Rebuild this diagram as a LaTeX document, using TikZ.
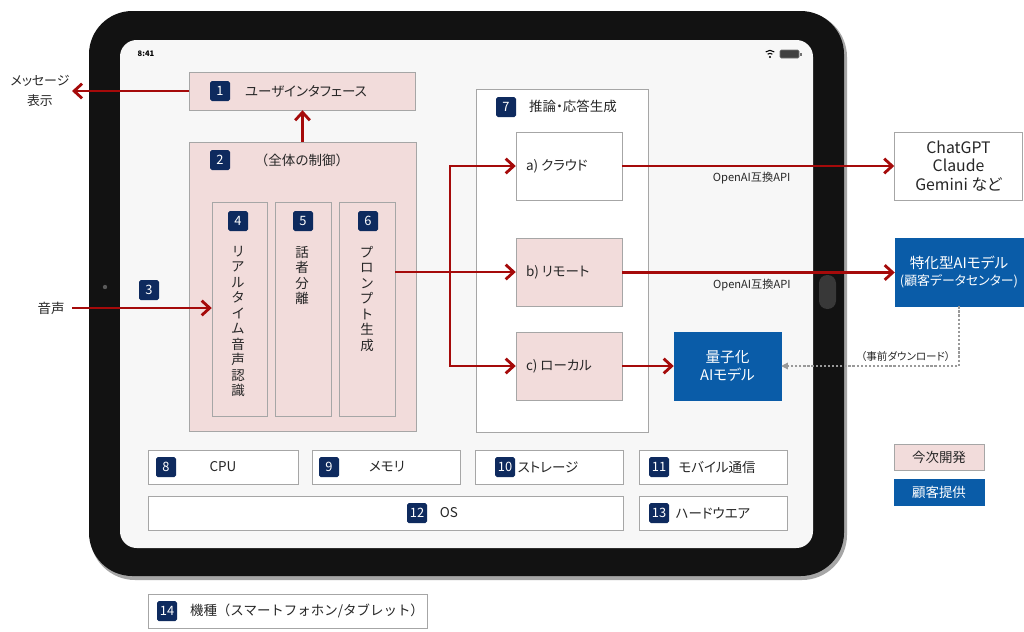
\documentclass[tikz,border=0pt]{standalone}
\usepackage{fontspec}
\setmainfont{Noto Sans CJK JP}[RawFeature=+palt]
\newfontfamily\fullw{Noto Sans CJK JP}
\usetikzlibrary{arrows.meta,positioning}

\definecolor{devpink}{HTML}{F2DCDB}
\definecolor{custblue}{HTML}{0A5CA8}
\definecolor{tagnavy}{HTML}{0E2A5E}
\definecolor{flowred}{HTML}{A50A0A}
\definecolor{edgegray}{HTML}{A6A6A6}
\definecolor{inkgray}{HTML}{262626}
\definecolor{screengray}{HTML}{F7F7F7}

\begin{document}
\begin{tikzpicture}[x=0.03cm, y=-0.03cm,
    font=\fontsize{11.5}{13}\selectfont, text=inkgray,
    sz/.style 2 args={minimum width=#1*0.03cm, minimum height=#2*0.03cm},
    devbox/.style={draw=edgegray, fill=devpink, inner sep=0pt, align=center},
    custbox/.style={draw=custblue, fill=custblue, text=white, inner sep=0pt, align=center},
    plainbox/.style={draw=edgegray, fill=white, inner sep=0pt, align=center},
    tag/.style={fill=tagnavy, text=white, rounded corners=1.5pt, inner sep=0pt,
        minimum size=0.6cm, font=\fontsize{11}{11}\selectfont},
    vtext/.style={align=center, inner sep=0pt, anchor=north, font=\fontsize{11.5}{13.2}\selectfont},
    flowline/.style={draw=flowred, line width=2.4pt},
    flow/.style={flowline, -{Straight Barb[length=2.4mm, width=4.4mm]}},
    api/.style={font=\fontsize{9.5}{10}\selectfont},
    preload/.style={draw=black!40, line width=0.9pt, dash pattern=on 2pt off 1.5pt,
        -{Triangle[length=2mm, width=2mm]}}]
    \fill[white] (0,0) rectangle (1024,631);
    \useasboundingbox (0,0) rectangle (1024,631);

    % Tablet
    \fill[black!35, rounded corners=1.35cm] (90,12) rectangle (847,580);
    \fill[black!93, rounded corners=1.3cm] (89,11) rectangle (844,576);
    \fill[screengray, rounded corners=0.5cm] (120,40) rectangle (813,548);
    \fill[black!65] (105,287) circle (0.065cm);
    \fill[black!78, rounded corners=0.25cm] (819,275) rectangle (836,309);

    % Status bar
    \node[text=black, font=\fontsize{6.5}{6.5}\bfseries] (clock) at (146,54) {8:41};
    \fill[black] (770,57) circle (0.035cm);
    \foreach \r in {0.11,0.2} {
        \draw[black, line width=0.9pt] (770,57) ++(50:\r cm) arc[start angle=50, end angle=130, radius=\r cm];
    }
    \draw[black!55, fill=black!75, rounded corners=1pt, line width=0.5pt] (780,50) rectangle (799,58);
    \fill[black!55] (799.5,52.5) rectangle (801.5,55.5);

    % 1 User interface
    \node[devbox, sz={226}{38}] (ui) at (302.5,91) {};
    \node[tag] (t1) at (220,91) {1};
    \node (uitext) at (306,91) {ユーザインタフェース};
    \node[align=center, font=\fontsize{11}{17}\selectfont] (msg) at (40,91) {メッセージ\\表示};
    \coordinate (msgend) at (72,91);
    \draw[flow] (ui.west) -- (msgend);

    % 2 Overall control
    \node[devbox, sz={227}{289}] (ctrl) at (302.5,286.5) {};
    \node[tag] (t2) at (220,160) {2};
    \node[font=\fullw\fontsize{11.5}{13}\selectfont] (ctrltext) at (302,160) {（全体の制御）};
    \draw[flow] (ctrl.north) -- (ui.south);

    % 4 5 6
    \node[devbox, sz={55}{214}] (asr) at (239.5,309) {};
    \node[devbox, sz={56}{214}] (spk) at (303,309) {};
    \node[devbox, sz={56}{214}] (prm) at (367,309) {};
    \node[tag] (t4) at (238,221) {4};
    \node[tag] (t5) at (303,221) {5};
    \node[tag] (t6) at (368,221) {6};
    \node[vtext] (asrtext) at (238,246) {リ\\ア\\ル\\タ\\イ\\ム\\音\\声\\認\\識};
    \node[vtext] (spktext) at (302,246) {話\\者\\分\\離};
    \node[vtext] (prmtext) at (367,246) {プ\\ロ\\ン\\プ\\ト\\生\\成};

    % 3 Voice input
    \node (voice) at (51,308) {音声};
    \node[tag] (t3) at (149,290) {3};
    \draw[flow, shorten <=3pt] (voice.east) -- (asr.west |- voice.east);

    % 7 Inference
    \node[plainbox, sz={172}{343}] (infer) at (562,260.5) {};
    \node[tag] (t7) at (506,107) {7};
    \node (infertext) at (573,106) {推論・応答生成};
    \node[plainbox, sz={106}{68}] (cloud) at (569,166) {};
    \node[devbox, sz={106}{68}] (remote) at (569,272.5) {};
    \node[devbox, sz={106}{68}] (local) at (569,366) {};
    \node[anchor=west, inner sep=0pt] (cloudtext) at ([xshift=0.3cm]cloud.west) {a) クラウド};
    \node[anchor=west, inner sep=0pt] (remotetext) at ([xshift=0.3cm]remote.west) {b) リモート};
    \node[anchor=west, inner sep=0pt] (localtext) at ([xshift=0.3cm]local.west) {c) ローカル};

    % Branches from prompt generation
    \coordinate (split) at (450,272);
    \draw[flowline] (prm.east |- split) -- (split);
    \draw[flow] (split) |- (cloud.west);
    \draw[flow] (split) -- (remote.west |- split);
    \draw[flow] (split) |- (local.west);

    % AI models
    \node[plainbox, sz={128}{68}, font=\fontsize{13.5}{15.7}\selectfont] (cloudai) at (958.5,166) {ChatGPT\\Claude\\Gemini など};
    \node[custbox, sz={128}{68}, font=\fontsize{12.5}{14.5}\selectfont] (custai) at (959,272) {特化型AIモデル\\{\fontsize{11}{14.5}\selectfont (顧客データセンター)}};
    \node[custbox, sz={107}{68}, font=\fontsize{12.5}{15.3}\selectfont] (quant) at (727.5,366) {量子化\\AIモデル};
    \draw[flow] (cloud.east) -- (cloudai.west) node[api, midway, below, yshift=-1pt, xshift=-0.2cm] {OpenAI互換API};
    \draw[flow] (remote.east) -- (custai.west |- remote.east) node[api, midway, below, yshift=-1pt, xshift=-0.2cm] {OpenAI互換API};
    \draw[flow] (local.east) -- (quant.west);
    \draw[preload] (custai.south) |- (quant.east) node[pos=0.65, above, font=\fontsize{9}{10}\selectfont] {（事前ダウンロード）};

    % Hardware
    \node[plainbox, sz={150}{34}] (cpu) at (223,467) {};
    \node[plainbox, sz={148}{34}] (mem) at (386,467) {};
    \node[plainbox, sz={148}{34}] (stor) at (549,467) {};
    \node[plainbox, sz={148}{34}] (mobile) at (713,467) {};
    \node[plainbox, sz={475}{34}] (os) at (385.5,513) {};
    \node[plainbox, sz={148}{34}] (hw) at (713,513) {};
    \node[tag] (t8) at (166,467) {8};
    \node[tag] (t9) at (329,467) {9};
    \node[tag] (t10) at (505,467) {10};
    \node[tag] (t11) at (659,467) {11};
    \node[tag] (t12) at (417,513) {12};
    \node[tag] (t13) at (659,513) {13};
    \node (cputext) at (223,467) {CPU};
    \node (memtext) at (387,467) {メモリ};
    \node (stortext) at (548,467) {ストレージ};
    \node (mobiletext) at (717,467) {モバイル通信};
    \node (ostext) at (449,513) {OS};
    \node (hwtext) at (713,513) {ハードウエア};

    % Legend
    \node[devbox, sz={90}{26}] (legdev) at (939,457) {今次開発};
    \node[custbox, sz={90}{26}] (legcust) at (939,492) {顧客提供};

    % 14 Device
    \node[plainbox, sz={279}{34}] (device) at (287.5,611) {};
    \node[tag] (t14) at (167,611) {14};
    \node[font=\fullw\fontsize{11.5}{13}\selectfont] (devicetext) at (307,611) {機種（スマートフォホン/タブレット）};
\end{tikzpicture}
\end{document}
